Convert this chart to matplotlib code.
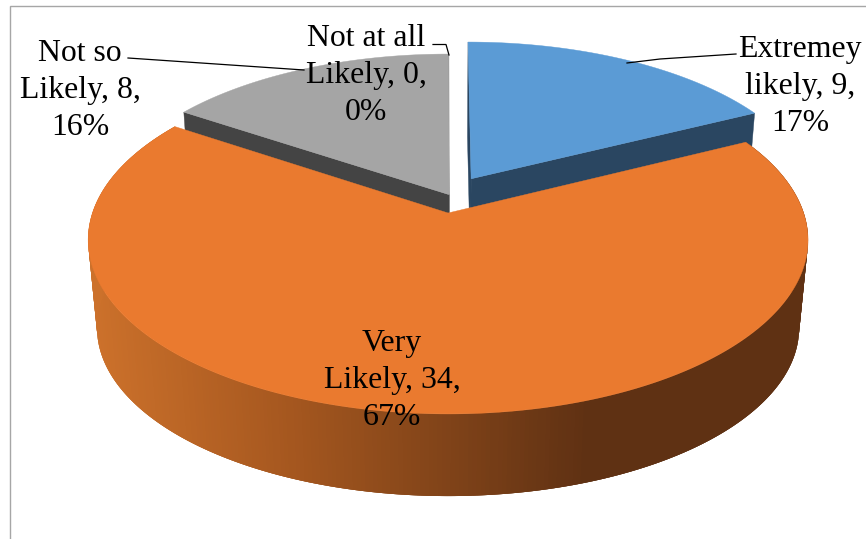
import numpy as np
import matplotlib
matplotlib.use("Agg")
import matplotlib.pyplot as plt
from matplotlib.collections import PolyCollection
from matplotlib.colors import LinearSegmentedColormap
from matplotlib.patches import Polygon

# ---- data ----
categories = ["Extremey\nlikely", "Very\nLikely", "Not so\nLikely", "Not at all\nLikely"]
values = [9, 34, 8, 0]
percents = [17, 67, 16, 0]

# ---- style ----
top_colors = ["#5b9bd5", "#ea7a2f", "#a5a5a5", "#a5a5a5"]
face_colors = ["#2a4661", "#5f3113", "#444444", "#444444"]
explode = [(0.070, 0.208, 0.985), (0.003, 0.0, 1.0), (0.006, 0.110, 0.985), (0.0, 0.0, 1.0)]
label_pos = [(800, 86.5), (392, 380.5), (80, 90.5), (366, 75.5)]
leaders = [[(736, 54), (660, 59), (627, 63)],
           None,
           [(128, 58), (260, 67), (304, 70)],
           [(433, 44.5), (446, 44.5), (449, 55)]]

fig = plt.figure(figsize=(8.66, 5.39), dpi=100)
ax = fig.add_axes([0, 0, 1, 1])
ax.set_xlim(0, 866)
ax.set_ylim(539, 0)
ax.axis("off")

P = 0.155
TOP = dict(cx=447.0, cy=213.0, A=355.6, B=169.8)
BOT = dict(cx=447.0, cy=302.0, A=346.8, B=164.0)


def project(x, y, lvl):
    """Perspective projection of the pie plane to the figure."""
    w = 1 + P * np.asarray(y)
    return lvl["cx"] + lvl["A"] * np.asarray(x) / w, lvl["cy"] - lvl["B"] * np.asarray(y) / w


def wedge_plane(t0, t1, off, n=240):
    t = np.linspace(t0, t1, n)
    return off[0] + off[2] * np.sin(t), off[1] + off[2] * np.cos(t)


def outline(t0, t1, off, lvl):
    x, y = wedge_plane(t0, t1, off)
    sx, sy = project(np.r_[off[0], x], np.r_[off[1], y], lvl)
    return np.c_[sx, sy]


total = sum(values)
edges = np.r_[0, np.cumsum(values)] / total * 2 * np.pi
spans = list(zip(edges[:-1], edges[1:]))

wall_cmap = LinearSegmentedColormap.from_list(
    "wall", [(0.0, "#cc712b"), (0.4, "#a5571f"), (1.0, "#5f3113")])


def wall_colour(x):
    return wall_cmap(np.clip((np.asarray(x) - 90) / 500, 0, 1))


# cut faces of the exploded slices, drawn behind the large slice
for i in (0, 2):
    t0, t1 = spans[i]
    off = explode[i]
    for ang in (t0, t1):
        xp = np.array([off[0], off[0] + off[2] * np.sin(ang)])
        yp = np.array([off[1], off[1] + off[2] * np.cos(ang)])
        ux, uy = project(xp, yp, TOP)
        lx, ly = project(xp, yp, BOT)
        ax.add_patch(Polygon(np.c_[np.r_[ux, lx[::-1]], np.r_[uy, ly[::-1]]],
                             closed=True, fc=face_colors[i], ec=face_colors[i],
                             lw=0.3, zorder=2))
    ax.add_patch(Polygon(outline(t0, t1, off, TOP), closed=True, fc=top_colors[i],
                         ec=top_colors[i], lw=0.3, zorder=3))

# the large slice: outer wall with horizontal shading, then its top
t0, t1 = spans[1]
off = explode[1]
xp, yp = wedge_plane(t0, t1, off, n=400)
ux, uy = project(xp, yp, TOP)
lx, ly = project(xp, yp, BOT)
STEP = 3  # each band overlaps its neighbours so that no seams show
quads = [[(ux[k], uy[k]), (ux[min(k + STEP, 399)], uy[min(k + STEP, 399)]),
          (lx[min(k + STEP, 399)], ly[min(k + STEP, 399)]), (lx[k], ly[k])]
         for k in range(len(xp) - 1)]
cols = wall_colour((ux[:-1] + ux[1:]) / 2)
ax.add_collection(PolyCollection(quads, facecolors=cols, edgecolors="none", zorder=4))
ax.add_patch(Polygon(outline(t0, t1, off, TOP), closed=True, fc=top_colors[1],
                     ec=top_colors[1], lw=0.3, zorder=5))

# chart frame
ax.plot([10.0, 10.0, 865], [539, 6.2, 6.2], color="#a6a6a6", lw=1.0, zorder=1,
        solid_joinstyle="miter")

# leader lines and labels
for pts in leaders:
    if pts:
        ax.plot(*zip(*pts), color="black", lw=0.9, zorder=6)

for cat, v, pc, (x, y) in zip(categories, values, percents, label_pos):
    ax.text(x, y, f"{cat}, {v},\n{pc}%", ha="center", va="center", multialignment="center",
            fontsize=22.9, family="Liberation Serif", color="black", linespacing=1.36, zorder=7)

fig.savefig("out.png", dpi=100, facecolor="white")
